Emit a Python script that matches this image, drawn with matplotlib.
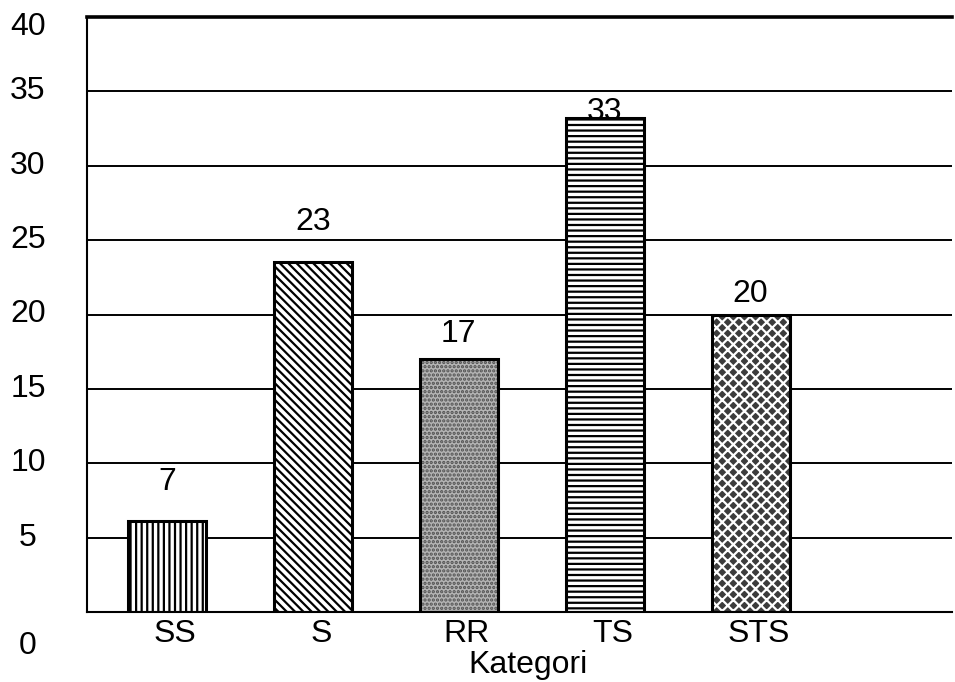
import numpy as np
import matplotlib
matplotlib.use("Agg")
import matplotlib.pyplot as plt
import matplotlib.transforms as mtransforms

# data
categories = ["SS", "S", "RR", "TS", "STS"]
bar_heights = [6.1, 23.5, 17.0, 33.2, 20.0]
bar_labels = ["7", "23", "17", "33", "20"]
ytick_values = [0, 5, 10, 15, 20, 25, 30, 35, 40]
xlabel_text = "Kategori"

# styling
hatches = ["|||", "\\\\\\\\", "....", "---", "xxx"]
faces = ["white", "white", "#b4b4b4", "white", "#3c3c3c"]
hatch_cols = ["black", "black", "#505050", "black", "white"]
label_gap_px = [39, 40, 25, 6, 20]

plt.rcParams.update({
    "font.family": ["Liberation Sans", "DejaVu Sans"],
    "hatch.linewidth": 1.6,
})
FS = 23

fig = plt.figure(figsize=(9.55, 6.82), dpi=100)
ax = fig.add_axes([87 / 955, 1 - 612 / 682, (952 - 87) / 955, (612 - 17) / 682])

x = np.arange(len(categories))
width = 0.534

# gridlines
for v in ytick_values[1:-1]:
    ax.axhline(v, color="black", lw=1.4, zorder=1)

# hatched fill, then black outline on top
for xi, h, fc, hatch, hc in zip(x, bar_heights, faces, hatches, hatch_cols):
    ax.bar(xi, h, width, color=fc, edgecolor=hc, hatch=hatch, linewidth=0, zorder=2)
    ax.bar(xi, h, width, fill=False, edgecolor="black", linewidth=2.2, zorder=3)

# value labels above bars
for xi, h, lab, gap in zip(x, bar_heights, bar_labels, label_gap_px):
    ax.annotate(lab, (xi, h), xytext=(0, gap), textcoords="offset pixels",
                ha="center", va="center", fontsize=FS, zorder=4)

ax.set_xlim(-0.548, 5.38)
ax.set_ylim(0, 40)

# axes frame
ax.spines["right"].set_visible(False)
ax.spines["top"].set_linewidth(2.6)
ax.spines["left"].set_linewidth(1.5)
ax.spines["bottom"].set_linewidth(1.5)

# category labels (slightly right of the bars, as in the scan)
ax.set_xticks(x)
ax.set_xticklabels(categories, fontsize=FS)
ax.tick_params(axis="x", length=0, pad=5)
shift = mtransforms.ScaledTranslation(8 / 100, 0, fig.dpi_scale_trans)
for t in ax.get_xticklabels():
    t.set_transform(t.get_transform() + shift)

# y labels placed by hand (0 and 40 sit off their gridlines in the original)
ax.set_yticks([])
ylab_shift = {0: -2.3, 40: 39.3}
trans = mtransforms.blended_transform_factory(fig.transFigure, ax.transData)
for v in ytick_values:
    ax.text(28 / 955, ylab_shift.get(v, v), str(v), transform=trans,
            ha="center", va="center", fontsize=FS, clip_on=False)

fig.text(528 / 955, 1 - 665 / 682, xlabel_text, ha="center", va="center", fontsize=FS)

fig.savefig("out.png", dpi=100)
